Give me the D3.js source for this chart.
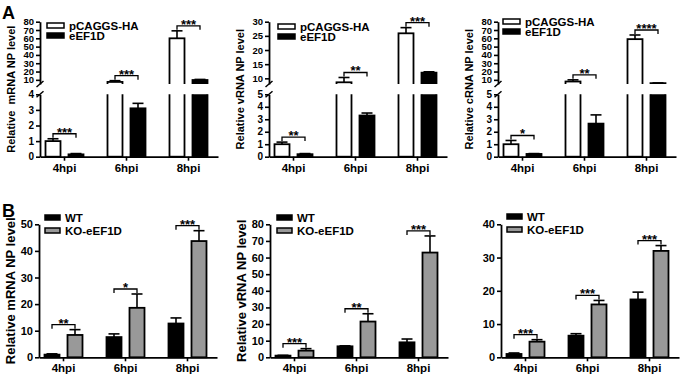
<!DOCTYPE html>
<html>
<head>
<meta charset="utf-8">
<script src="https://cdn.jsdelivr.net/npm/d3@7/dist/d3.min.js"></script>
<style>
  body { margin: 0; background: #fff; }
  svg { font-family: 'Liberation Sans', Arial, sans-serif; font-weight: bold; }
</style>
</head>
<body>
<div id="chart"></div>
<script>
var width = 680, height = 380

var groups = ['4hpi', '6hpi', '8hpi']
var seriesA = ['pCAGGS-HA', 'eEF1D']
var seriesB = ['WT', 'KO-eEF1D']

// Row A: overexpression (pCAGGS-HA vs eEF1D), broken y axis
var mrnaHA = [1.0, 7.5, 60], mrnaHAErr = [0.15, 1.5, 9]
var mrnaEF = [0.15, 3.1, 9.8], mrnaEFErr = [0.05, 0.32, 0.7]
var mrnaSigA = ['***', '***', '***']

var vrnaHA = [1.0, 8.6, 25.9], vrnaHAErr = [0.17, 1.7, 2]
var vrnaEF = [0.2, 3.3, 12], vrnaEFErr = [0.05, 0.2, 0.3]
var vrnaSigA = ['**', '**', '***']

var crnaHA = [1.0, 8, 59], crnaHAErr = [0.3, 2, 5]
var crnaEF = [0.22, 2.65, 6], crnaEFErr = [0.03, 0.7, 0.3]
var crnaSigA = ['*', '**', '****']

// Row B: knockout (WT vs KO-eEF1D)
var mrnaWT = [1.0, 7.6, 12.7], mrnaWTErr = [0.3, 1.2, 2.1]
var mrnaKO = [8.4, 18.6, 43.7], mrnaKOErr = [2, 5.2, 3.9]
var mrnaSigB = ['**', '*', '***']

var vrnaWT = [1.0, 6.6, 9], vrnaWTErr = [0.2, 0.3, 2]
var vrnaKO = [4, 21.5, 63], vrnaKOErr = [1.2, 4.7, 10]
var vrnaSigB = ['***', '**', '***']

var crnaWT = [1.0, 6.5, 17.4], crnaWTErr = [0.3, 0.6, 2.2]
var crnaKO = [4.7, 15.9, 32], crnaKOErr = [0.6, 1.2, 1.6]
var crnaSigB = ['***', '***', '***']

// Tick labels
var ticksLow4 = [0, 1, 2, 3, 4]
var ticksLow5 = [0, 1, 2, 3, 4, 5]
var ticksHigh80 = [10, 20, 30, 40, 50, 60, 70, 80]
var ticksHigh30 = [10, 15, 20, 25, 30]
var ticksB50 = [0, 10, 20, 30, 40, 50]
var ticksB80 = [0, 10, 20, 30, 40, 50, 60, 70, 80]
var ticksB40 = [0, 10, 20, 30, 40]

// layout of the two rows
var rowA = { base: 156.7, lowTop: 94.3, highBottom: 84, top: 21.7 }
var rowB = { base: 357.3, top: 224.3 }

var panels = [
  { broken: true, x0: 40, ylabel: 'Relative  mRNA NP level', data: [mrnaHA, mrnaEF], err: [mrnaHAErr, mrnaEFErr], sig: mrnaSigA,
    low: [0, 4], high: [5, 80], lowTicks: ticksLow4, highTicks: ticksHigh80, legDx: 7, legY: 23 },
  { broken: true, x0: 269, ylabel: 'Relative vRNA NP level', data: [vrnaHA, vrnaEF], err: [vrnaHAErr, vrnaEFErr], sig: vrnaSigA,
    low: [0, 5], high: [8, 30], lowTicks: ticksLow5, highTicks: ticksHigh30, legDx: 9, legY: 24 },
  { broken: true, x0: 498, ylabel: 'Relative cRNA NP level', data: [crnaHA, crnaEF], err: [crnaHAErr, crnaEFErr], sig: crnaSigA,
    low: [0, 5], high: [5, 80], lowTicks: ticksLow5, highTicks: ticksHigh80, legDx: 5, legY: 19 },
  { broken: false, x0: 39, ylabel: 'Relative mRNA NP level', data: [mrnaWT, mrnaKO], err: [mrnaWTErr, mrnaKOErr], sig: mrnaSigB,
    max: 50, ticks: ticksB50, legDx: 6, legY: 215 },
  { broken: false, x0: 270, ylabel: 'Relative vRNA NP level', data: [vrnaWT, vrnaKO], err: [vrnaWTErr, vrnaKOErr], sig: vrnaSigB,
    max: 80, ticks: ticksB80, legDx: 7, legY: 215 },
  { broken: false, x0: 501, ylabel: '', data: [crnaWT, crnaKO], err: [crnaWTErr, crnaKOErr], sig: crnaSigB,
    max: 40, ticks: ticksB40, legDx: 6, legY: 214 }
]

var svg = d3.select('#chart')
  .append('svg')
  .attr('width', width)
  .attr('height', height)

// Panel letters
svg.append('text').attr('x', 2).attr('y', 19).style('font-size', '18px').text('A')
svg.append('text').attr('x', 2).attr('y', 217).style('font-size', '18px').text('B')

function styleAxis(sel, fs) {
  sel.select('.domain').attr('stroke-width', 1.8)
  sel.selectAll('.tick line').attr('stroke-width', 1.6)
  sel.selectAll('text').style('font-size', fs).attr('fill', '#000')
}

var fmt = d3.format('d')

panels.forEach(function(p, pi) {
  var g = svg.append('g').attr('class', 'panel-' + pi)
  var base = p.broken ? rowA.base : rowB.base
  var top = p.broken ? rowA.top : rowB.top
  var fills = p.broken ? ['#ffffff', '#000000'] : ['#000000', '#999999']
  var names = p.broken ? seriesA : seriesB

  // X scales: groups, then the two bars inside a group
  var x0 = d3.scaleBand()
    .domain(groups)
    .range([p.x0, p.x0 + 178])
    .paddingInner(0.3)
    .paddingOuter(0.0855)
    .align(0.264)
  var x1 = d3.scaleBand()
    .domain([0, 1])
    .range([-19, 19])
    .paddingInner(8 / 23)
  var cx = function(i) { return x0(groups[i]) + x0.bandwidth() / 2 }

  // Y scales
  var yOf, yLow, yHigh, y
  if (p.broken) {
    yLow = d3.scaleLinear().domain(p.low).range([rowA.base, rowA.lowTop])
    yHigh = d3.scaleLinear().domain(p.high).range([rowA.highBottom, rowA.top])
    yOf = function(v) { return v <= p.low[1] ? yLow(v) : yHigh(v) }
  } else {
    y = d3.scaleLinear().domain([0, p.max]).range([rowB.base, rowB.top])
    yOf = y
  }

  var bars = []
  groups.forEach(function(gr, i) {
    [0, 1].forEach(function(s) {
      bars.push({ i: i, s: s, v: p.data[s][i], e: p.err[s][i] })
    })
  })

  // Render bars
  if (p.broken) {
    var defs = svg.append('defs')
    defs.append('clipPath').attr('id', 'low-' + pi)
      .append('rect').attr('x', p.x0).attr('y', rowA.lowTop).attr('width', 185).attr('height', rowA.base - rowA.lowTop + 4)
    defs.append('clipPath').attr('id', 'high-' + pi)
      .append('rect').attr('x', p.x0).attr('y', 0).attr('width', 185).attr('height', rowA.highBottom)

    g.append('g').attr('clip-path', `url(#low-${pi})`)
      .selectAll('rect')
      .data(bars)
      .enter()
      .append('rect')
      .attr('x', d => cx(d.i) + x1(d.s))
      .attr('width', x1.bandwidth())
      .attr('y', d => d.v > p.low[1] ? yLow(p.low[1]) - 6 : yLow(d.v))
      .attr('height', d => base - (d.v > p.low[1] ? yLow(p.low[1]) - 6 : yLow(d.v)))
      .attr('fill', d => fills[d.s])
      .attr('stroke', '#000')
      .attr('stroke-width', 1.8)

    g.append('g').attr('clip-path', `url(#high-${pi})`)
      .selectAll('rect')
      .data(bars.filter(d => d.v > p.low[1]))
      .enter()
      .append('rect')
      .attr('x', d => cx(d.i) + x1(d.s))
      .attr('width', x1.bandwidth())
      .attr('y', d => yHigh(d.v))
      .attr('height', d => yHigh(p.high[0]) + 6 - yHigh(d.v))
      .attr('fill', d => fills[d.s])
      .attr('stroke', '#000')
      .attr('stroke-width', 1.8)
  } else {
    g.append('g')
      .selectAll('rect')
      .data(bars)
      .enter()
      .append('rect')
      .attr('x', d => cx(d.i) + x1(d.s))
      .attr('width', x1.bandwidth())
      .attr('y', d => y(d.v))
      .attr('height', d => base - y(d.v))
      .attr('fill', d => fills[d.s])
      .attr('stroke', '#000')
      .attr('stroke-width', 1.8)
  }

  // Error bars (upper half only)
  var errG = g.append('g').attr('stroke', '#000').attr('stroke-width', 1.6)
  errG.selectAll('.err-v')
    .data(bars)
    .enter()
    .append('line')
    .attr('x1', d => cx(d.i) + x1(d.s) + x1.bandwidth() / 2)
    .attr('x2', d => cx(d.i) + x1(d.s) + x1.bandwidth() / 2)
    .attr('y1', d => yOf(d.v))
    .attr('y2', d => yOf(d.v + d.e))
  errG.selectAll('.err-cap')
    .data(bars)
    .enter()
    .append('line')
    .attr('x1', d => cx(d.i) + x1(d.s) + x1.bandwidth() / 2 - 5.5)
    .attr('x2', d => cx(d.i) + x1(d.s) + x1.bandwidth() / 2 + 5.5)
    .attr('y1', d => yOf(d.v + d.e))
    .attr('y2', d => yOf(d.v + d.e))

  // Significance brackets
  var sig = groups.map(function(gr, i) {
    var yy = Math.min(yOf(p.data[0][i] + p.err[0][i]), yOf(p.data[1][i] + p.err[1][i])) - 5
    return { i: i, y: yy, a: cx(i) + x1(0) + x1.bandwidth() / 2, b: cx(i) + x1(1) + x1.bandwidth() / 2, t: p.sig[i] }
  })
  var sigG = g.append('g').attr('stroke', '#000').attr('stroke-width', 1.3).attr('fill', 'none')
  sigG.selectAll('path')
    .data(sig)
    .enter()
    .append('path')
    .attr('d', d => `M${d.a},${d.y + 4}V${d.y}H${d.b}V${d.y + 4}`)
  g.selectAll('.stars')
    .data(sig)
    .enter()
    .append('text')
    .attr('class', 'stars')
    .attr('x', d => (d.a + d.b) / 2)
    .attr('y', d => d.y + 3)
    .attr('text-anchor', 'middle')
    .style('font-size', '13px')
    .text(d => d.t)

  // Render Y axis
  if (p.broken) {
    g.append('g')
      .attr('transform', `translate(${p.x0},0)`)
      .call(d3.axisLeft(yLow).tickValues(p.lowTicks).tickFormat(fmt).tickSize(4).tickSizeOuter(0).tickPadding(2))
      .call(s => styleAxis(s, '10px'))
    g.append('g')
      .attr('transform', `translate(${p.x0},0)`)
      .call(d3.axisLeft(yHigh).tickValues(p.highTicks).tickFormat(fmt).tickSize(4).tickSizeOuter(0).tickPadding(2))
      .call(s => styleAxis(s, '9.5px'))
    // break marks
    g.selectAll('.brk')
      .data([rowA.highBottom, rowA.lowTop])
      .enter()
      .append('line')
      .attr('x1', p.x0 - 3.5).attr('x2', p.x0 + 3.5)
      .attr('y1', d => d + 3).attr('y2', d => d - 3)
      .attr('stroke', '#000')
      .attr('stroke-width', 1.5)
  } else {
    g.append('g')
      .attr('transform', `translate(${p.x0},0)`)
      .call(d3.axisLeft(y).tickValues(p.ticks).tickFormat(fmt).tickSize(4).tickSizeOuter(0).tickPadding(2))
      .call(s => styleAxis(s, '11px'))
  }

  // Render X axis
  g.append('g')
    .attr('transform', `translate(0,${base})`)
    .call(d3.axisBottom(x0).tickSize(4).tickSizeOuter(0).tickPadding(3))
    .call(s => styleAxis(s, '11.5px'))

  // Y label
  g.append('text')
    .attr('transform', `translate(${p.x0 - 29},${(base + top) / 2}) rotate(-90)`)
    .attr('text-anchor', 'middle')
    .attr('dy', '0.35em')
    .style('font-size', p.broken ? '11px' : '13px')
    .style('white-space', 'pre')
    .text(p.ylabel)

  // Legend
  var lw = p.broken ? 17 : 15
  var leg = g.selectAll('.legend')
    .data(names)
    .enter()
    .append('g')
    .attr('class', 'legend')
    .attr('transform', (d, k) => `translate(${p.x0 + p.legDx},${p.legY + k * (p.broken ? 10 : 13)})`)
  leg.append('rect')
    .attr('width', lw)
    .attr('height', 5)
    .attr('fill', (d, k) => fills[k])
    .attr('stroke', '#000')
    .attr('stroke-width', 1.5)
  leg.append('text')
    .attr('x', lw + 5)
    .attr('y', 2.5)
    .attr('dy', '0.35em')
    .style('font-size', p.broken ? '11.5px' : '11.5px')
    .text(d => d)
})
</script>
</body>
</html>
